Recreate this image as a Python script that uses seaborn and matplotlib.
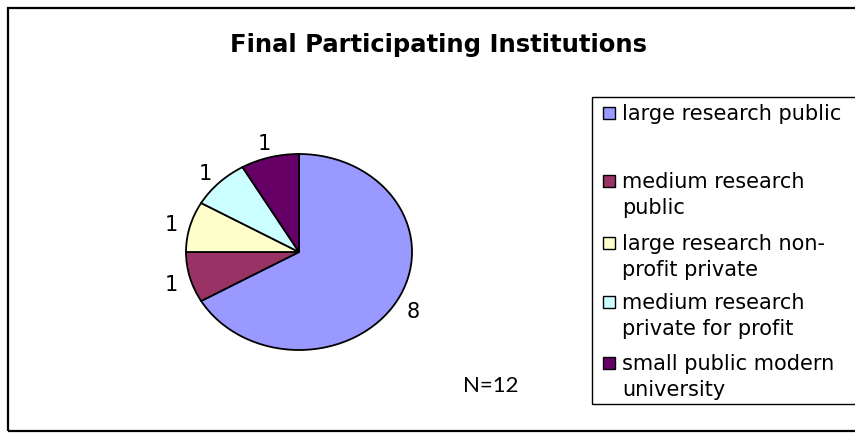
import matplotlib
matplotlib.use("Agg")
import matplotlib.pyplot as plt
from matplotlib.patches import Rectangle
import seaborn as sns
import numpy as np

# ---- data ----
categories = ["large research public", "medium research public",
              "large research non-profit private",
              "medium research private for profit",
              "small public modern university"]
legend_labels = ["large research public", "medium research\npublic",
                 "large research non-\nprofit private",
                 "medium research\nprivate for profit",
                 "small public modern\nuniversity"]
counts = [8, 1, 1, 1, 1]
colors = ["#9999FF", "#993366", "#FFFFCC", "#CCFFFF", "#660066"]
title = "Final Participating Institutions"
note = "N=12"

sns.set_theme(style="white")
plt.rcParams["font.family"] = ["DejaVu Sans"]

W, H = 855, 433
fig = plt.figure(figsize=(W / 100, H / 100), dpi=100)
fig.patch.set_facecolor("white")

def fx(px):
    return px / W

def fy(py):
    return 1 - py / H

# pie axes (ellipse: rx=113 px, ry=98 px, centre 299,252)
cx, cy, rx, ry = 299, 252, 113, 98
ax = fig.add_axes([fx(cx - 1.25 * rx), fy(cy + 1.25 * ry), 2.5 * rx / W, 2.5 * ry / H])
wedges, _ = ax.pie(counts, colors=colors, startangle=90, counterclock=False,
                   wedgeprops=dict(edgecolor="black", linewidth=1.3))
ax.set_aspect("auto")
ax.set_xlim(-1.25, 1.25)
ax.set_ylim(-1.25, 1.25)
ax.axis("off")

for w, v in zip(wedges, counts):
    mid = np.deg2rad((w.theta1 + w.theta2) / 2)
    r = 1.17
    ax.text(r * np.cos(mid), r * np.sin(mid) - 0.03, str(v), ha="center", va="center",
            fontsize=15, color="black")

# title
fig.text(fx(438), fy(45), title, ha="center", va="center", fontsize=17.5,
         fontweight="bold", color="black")

# N note
fig.text(fx(491), fy(386), note, ha="center", va="center", fontsize=16,
         family=["Lato", "DejaVu Sans"], color="black")

# outer frame
fig.add_artist(Rectangle((fx(8), fy(431)), fx(860) - fx(8), fy(8) - fy(431),
                         transform=fig.transFigure, fill=False,
                         edgecolor="black", linewidth=1.6))

# legend box
fig.add_artist(Rectangle((fx(592), fy(404)), fx(870) - fx(592), fy(97) - fy(404),
                         transform=fig.transFigure, fill=False,
                         edgecolor="black", linewidth=1.0))

row_y = [113, 181, 243, 302, 363]
for lab, col, y in zip(legend_labels, colors, row_y):
    fig.add_artist(Rectangle((fx(603), fy(y + 6)), 12 / W, 12 / H,
                             transform=fig.transFigure, facecolor=col,
                             edgecolor="black", linewidth=1.0))
    fig.text(fx(622), fy(y - 9), lab, ha="left", va="top", fontsize=15,
             color="black", linespacing=1.4,
             transform=fig.transFigure)

fig.savefig("out.png", dpi=100)
